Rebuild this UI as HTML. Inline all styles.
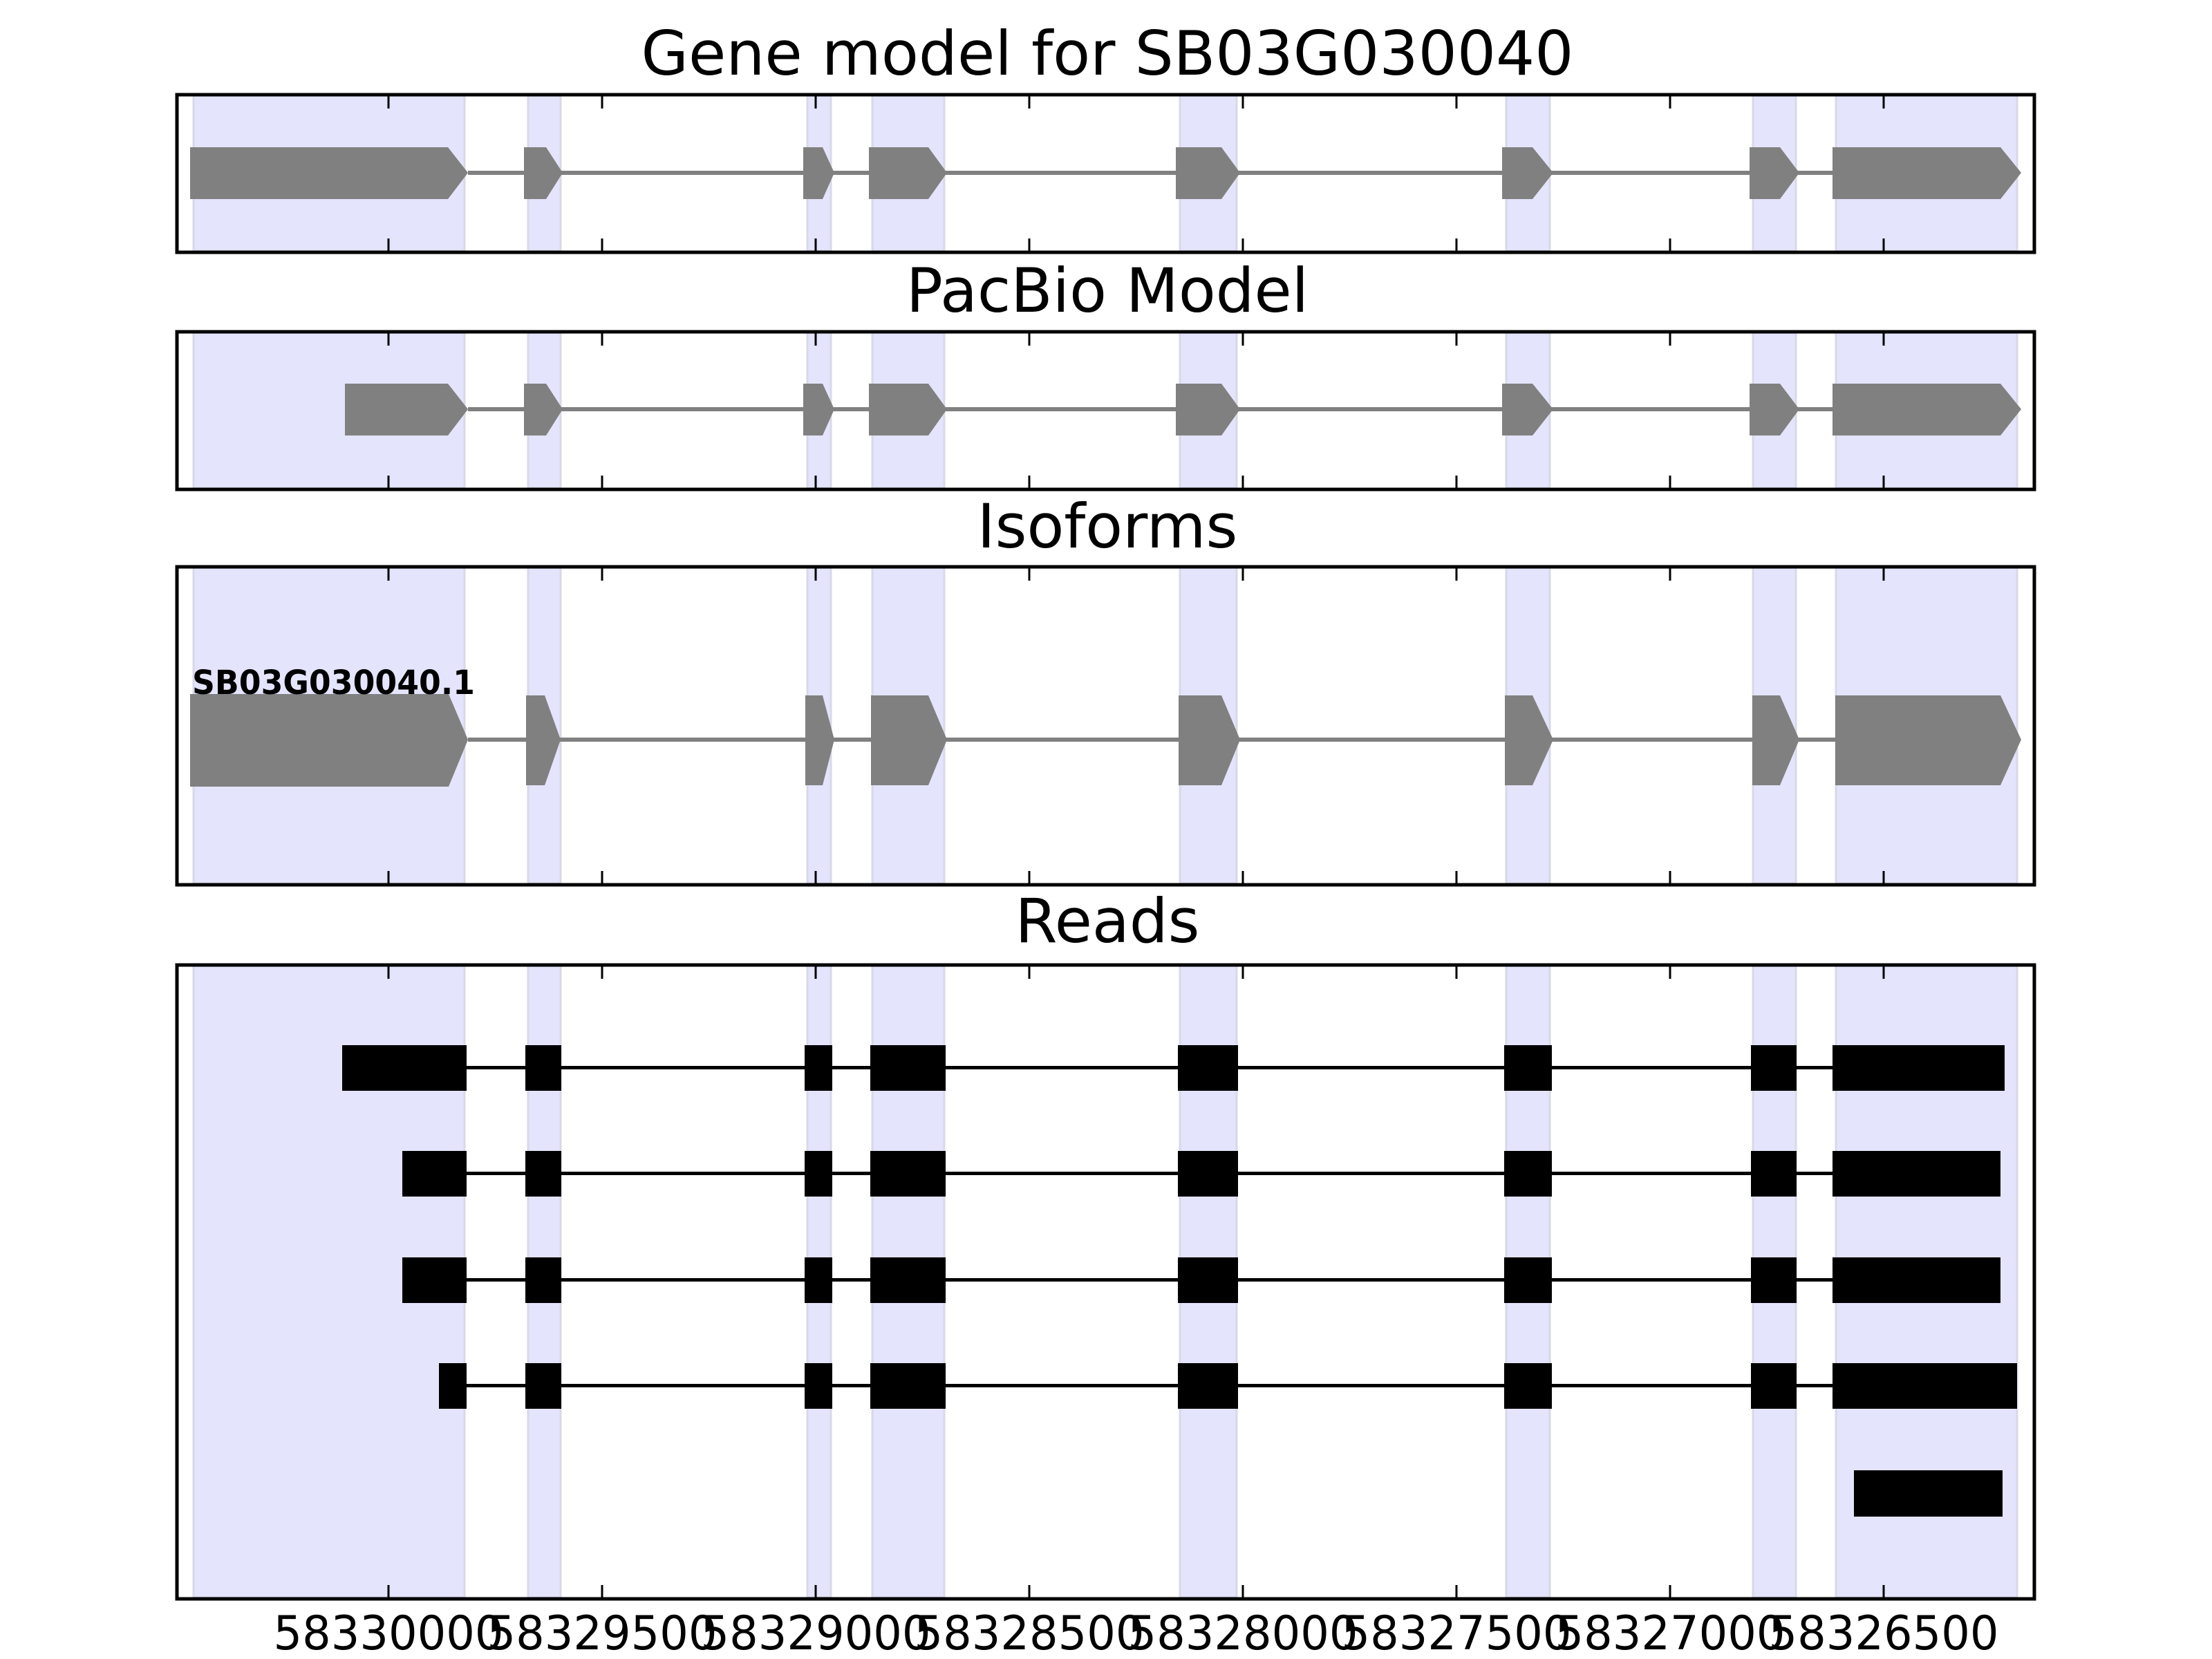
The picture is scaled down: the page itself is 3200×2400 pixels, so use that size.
<!DOCTYPE html>
<html><head><meta charset="utf-8"><style>html,body{margin:0;padding:0;background:#fff}svg{display:block}</style></head><body>
<svg width="3200" height="2400" viewBox="0 0 3200 2400" xmlns="http://www.w3.org/2000/svg" font-family="'DejaVu Sans','Liberation Sans',sans-serif">
<g fill="#000" font-size="88" text-anchor="middle">
<text x="1602" y="108" textLength="1349" lengthAdjust="spacingAndGlyphs">Gene model for SB03G030040</text>
<text x="1602" y="451">PacBio Model</text>
<text x="1602" y="792">Isoforms</text>
<text x="1602" y="1363">Reads</text>
</g>
<g fill="#e4e4fc" stroke="#d8d8e8" stroke-width="3">
<rect x="280" y="137" width="392" height="226"/><rect x="764" y="137" width="47" height="226"/><rect x="1168" y="137" width="34" height="226"/><rect x="1262" y="137" width="104" height="226"/><rect x="1707" y="137" width="82" height="226"/><rect x="2179" y="137" width="63" height="226"/><rect x="2536" y="137" width="62" height="226"/><rect x="2656" y="137" width="262" height="226"/>
<rect x="280" y="480" width="392" height="226"/><rect x="764" y="480" width="47" height="226"/><rect x="1168" y="480" width="34" height="226"/><rect x="1262" y="480" width="104" height="226"/><rect x="1707" y="480" width="82" height="226"/><rect x="2179" y="480" width="63" height="226"/><rect x="2536" y="480" width="62" height="226"/><rect x="2656" y="480" width="262" height="226"/>
<rect x="280" y="820" width="392" height="458"/><rect x="764" y="820" width="47" height="458"/><rect x="1168" y="820" width="34" height="458"/><rect x="1262" y="820" width="104" height="458"/><rect x="1707" y="820" width="82" height="458"/><rect x="2179" y="820" width="63" height="458"/><rect x="2536" y="820" width="62" height="458"/><rect x="2656" y="820" width="262" height="458"/>
<rect x="280" y="1396" width="392" height="915"/><rect x="764" y="1396" width="47" height="915"/><rect x="1168" y="1396" width="34" height="915"/><rect x="1262" y="1396" width="104" height="915"/><rect x="1707" y="1396" width="82" height="915"/><rect x="2179" y="1396" width="63" height="915"/><rect x="2536" y="1396" width="62" height="915"/><rect x="2656" y="1396" width="262" height="915"/>
</g>
<g fill="#808080">
<rect x="677" y="247" width="2000" height="6"/>
<polygon points="275,213 648,213 677,250 648,288 275,288"/>
<polygon points="758,213 790,213 814,250 790,288 758,288"/>
<polygon points="1162,213 1190,213 1207,250 1190,288 1162,288"/>
<polygon points="1257,213 1343,213 1370,250 1343,288 1257,288"/>
<polygon points="1701,213 1767,213 1794,250 1767,288 1701,288"/>
<polygon points="2173,213 2217,213 2247,250 2217,288 2173,288"/>
<polygon points="2531,213 2575,213 2603,250 2575,288 2531,288"/>
<polygon points="2651,213 2894,213 2924,250 2894,288 2651,288"/>
</g>
<g fill="#808080">
<rect x="677" y="589" width="2000" height="6"/>
<polygon points="499,555 648,555 677,592 648,630 499,630"/>
<polygon points="758,555 790,555 814,592 790,630 758,630"/>
<polygon points="1162,555 1190,555 1207,592 1190,630 1162,630"/>
<polygon points="1257,555 1343,555 1370,592 1343,630 1257,630"/>
<polygon points="1701,555 1767,555 1794,592 1767,630 1701,630"/>
<polygon points="2173,555 2217,555 2247,592 2217,630 2173,630"/>
<polygon points="2531,555 2575,555 2603,592 2575,630 2531,630"/>
<polygon points="2651,555 2894,555 2924,592 2894,630 2651,630"/>
</g>
<g fill="#808080">
<rect x="677" y="1067" width="2000" height="6"/>
<polygon points="275,1004 649,1004 677,1070 649,1138 275,1138"/>
<polygon points="761,1006 788,1006 811,1070 788,1136 761,1136"/>
<polygon points="1165,1006 1190,1006 1207,1070 1190,1136 1165,1136"/>
<polygon points="1260,1006 1343,1006 1370,1070 1343,1136 1260,1136"/>
<polygon points="1705,1006 1767,1006 1794,1070 1767,1136 1705,1136"/>
<polygon points="2177,1006 2217,1006 2247,1070 2217,1136 2177,1136"/>
<polygon points="2535,1006 2575,1006 2603,1070 2575,1136 2535,1136"/>
<polygon points="2655,1006 2894,1006 2924,1070 2894,1136 2655,1136"/>
</g>
<text x="278" y="1004" font-size="48" font-weight="bold" fill="#000" textLength="409" lengthAdjust="spacingAndGlyphs">SB03G030040.1</text>
<g fill="#000">
<rect x="675" y="1542" width="2000" height="5"/>
<rect x="495" y="1512" width="180" height="66"/><rect x="760" y="1512" width="52" height="66"/><rect x="1164" y="1512" width="40" height="66"/><rect x="1259" y="1512" width="109" height="66"/><rect x="1704" y="1512" width="87" height="66"/><rect x="2176" y="1512" width="69" height="66"/><rect x="2533" y="1512" width="66" height="66"/><rect x="2651" y="1512" width="249" height="66"/>
<rect x="675" y="1695" width="2000" height="5"/>
<rect x="582" y="1665" width="93" height="66"/><rect x="760" y="1665" width="52" height="66"/><rect x="1164" y="1665" width="40" height="66"/><rect x="1259" y="1665" width="109" height="66"/><rect x="1704" y="1665" width="87" height="66"/><rect x="2176" y="1665" width="69" height="66"/><rect x="2533" y="1665" width="66" height="66"/><rect x="2651" y="1665" width="243" height="66"/>
<rect x="675" y="1849" width="2000" height="5"/>
<rect x="582" y="1819" width="93" height="66"/><rect x="760" y="1819" width="52" height="66"/><rect x="1164" y="1819" width="40" height="66"/><rect x="1259" y="1819" width="109" height="66"/><rect x="1704" y="1819" width="87" height="66"/><rect x="2176" y="1819" width="69" height="66"/><rect x="2533" y="1819" width="66" height="66"/><rect x="2651" y="1819" width="243" height="66"/>
<rect x="675" y="2002" width="2000" height="5"/>
<rect x="635" y="1972" width="40" height="66"/><rect x="760" y="1972" width="52" height="66"/><rect x="1164" y="1972" width="40" height="66"/><rect x="1259" y="1972" width="109" height="66"/><rect x="1704" y="1972" width="87" height="66"/><rect x="2176" y="1972" width="69" height="66"/><rect x="2533" y="1972" width="66" height="66"/><rect x="2651" y="1972" width="267" height="66"/>
<rect x="2682" y="2127" width="215" height="67"/>
</g>
<g fill="none" stroke="#000" stroke-width="5">
<rect x="256" y="137" width="2687" height="228"/>
<rect x="256" y="480" width="2687" height="228"/>
<rect x="256" y="820" width="2687" height="460"/>
<rect x="256" y="1396" width="2687" height="917"/>
</g>
<g stroke="#000" stroke-width="3">
<path d="M562 137v20M871 137v20M1180 137v20M1489 137v20M1798 137v20M2107 137v20M2416 137v20M2725 137v20
M562 365v-20M871 365v-20M1180 365v-20M1489 365v-20M1798 365v-20M2107 365v-20M2416 365v-20M2725 365v-20
M562 480v20M871 480v20M1180 480v20M1489 480v20M1798 480v20M2107 480v20M2416 480v20M2725 480v20
M562 708v-20M871 708v-20M1180 708v-20M1489 708v-20M1798 708v-20M2107 708v-20M2416 708v-20M2725 708v-20
M562 820v20M871 820v20M1180 820v20M1489 820v20M1798 820v20M2107 820v20M2416 820v20M2725 820v20
M562 1280v-20M871 1280v-20M1180 1280v-20M1489 1280v-20M1798 1280v-20M2107 1280v-20M2416 1280v-20M2725 1280v-20
M562 1396v20M871 1396v20M1180 1396v20M1489 1396v20M1798 1396v20M2107 1396v20M2416 1396v20M2725 1396v20
M562 2313v-20M871 2313v-20M1180 2313v-20M1489 2313v-20M1798 2313v-20M2107 2313v-20M2416 2313v-20M2725 2313v-20"/>
</g>
<g font-size="68" fill="#000" text-anchor="middle">
<text x="562" y="2386" textLength="333" lengthAdjust="spacingAndGlyphs">58330000</text>
<text x="871" y="2386" textLength="333" lengthAdjust="spacingAndGlyphs">58329500</text>
<text x="1180" y="2386" textLength="333" lengthAdjust="spacingAndGlyphs">58329000</text>
<text x="1489" y="2386" textLength="333" lengthAdjust="spacingAndGlyphs">58328500</text>
<text x="1798" y="2386" textLength="333" lengthAdjust="spacingAndGlyphs">58328000</text>
<text x="2107" y="2386" textLength="333" lengthAdjust="spacingAndGlyphs">58327500</text>
<text x="2416" y="2386" textLength="333" lengthAdjust="spacingAndGlyphs">58327000</text>
<text x="2725" y="2386" textLength="333" lengthAdjust="spacingAndGlyphs">58326500</text>
</g>
</svg>
</body></html>
